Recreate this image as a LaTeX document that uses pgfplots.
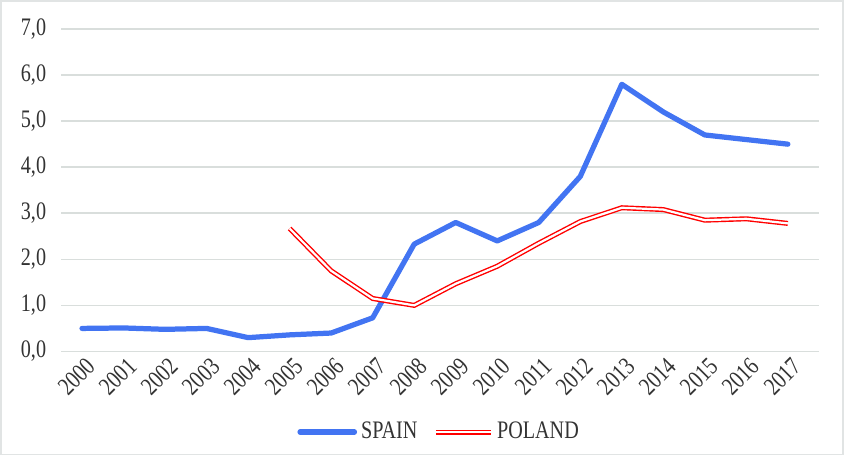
\documentclass[border=0pt]{standalone}
\usepackage{pgfplots}
\pgfplotsset{compat=1.18}
\usepackage{fontspec}
\setmainfont{Liberation Serif}[FakeStretch=0.8]
\definecolor{spainblue}{RGB}{66,116,242}
\definecolor{gridgray}{RGB}{217,222,220}
\definecolor{txt}{RGB}{51,51,51}
\definecolor{framegray}{RGB}{225,228,228}
\begin{document}
\begin{tikzpicture}
\begin{axis}[
  scale only axis,
  width=376pt, height=160pt,
  xmin=1999.5, xmax=2017.75,
  ymin=0, ymax=7,
  clip=false,
  axis line style={draw=none},
  tick style={draw=none},
  ymajorgrids,
  grid style={gridgray, line width=0.8pt},
  ytick={0,1,...,7},
  yticklabel={\pgfmathprintnumber[fixed, fixed zerofill, precision=1, use comma, assume math mode=true]{\tick}},
  yticklabel style={text=txt, font=\fontsize{12.5}{14}\selectfont, xshift=-4pt},
  xtick={2000,...,2017},
  xticklabels={2000,2001,2002,2003,2004,2005,2006,2007,2008,2009,2010,2011,2012,2013,2014,2015,2016,2017},
  xticklabel style={rotate=45, anchor=north east, text=txt, font=\fontsize{12.5}{14}\selectfont, inner sep=0.5pt, yshift=-2pt},
  legend columns=2,
  legend style={at={(0.5,-0.25)}, anchor=center, draw=none, fill=none, font=\fontsize{12.5}{14}\selectfont, text=txt,
    /tikz/every even column/.append style={column sep=6pt}},
  legend image code/.code={\draw[#1] (0pt,0pt) -- (27pt,0pt);},
]
\draw[framegray, line width=0.8pt] (rel axis cs:-0.0798,-0.32) rectangle (rel axis cs:1.0319,1.0875);
\addplot[spainblue, line width=2.6pt, line join=round, line cap=round] coordinates {
(2000,0.50) (2001,0.51) (2002,0.48) (2003,0.50) (2004,0.30) (2005,0.36) (2006,0.40)
(2007,0.73) (2008,2.33) (2009,2.80) (2010,2.40) (2011,2.80) (2012,3.80) (2013,5.80)
(2014,5.20) (2015,4.70) (2016,4.60) (2017,4.50)};
\addlegendentry{SPAIN}
\addplot[red, line width=0.7pt, double=white, double distance=1.1pt, line join=miter] coordinates {
(2005,2.67) (2006,1.75) (2007,1.15) (2008,1.00) (2009,1.47) (2010,1.85) (2011,2.35)
(2012,2.82) (2013,3.12) (2014,3.08) (2015,2.85) (2016,2.88) (2017,2.78)};
\addlegendentry{POLAND}
\end{axis}
\end{tikzpicture}
\end{document}
